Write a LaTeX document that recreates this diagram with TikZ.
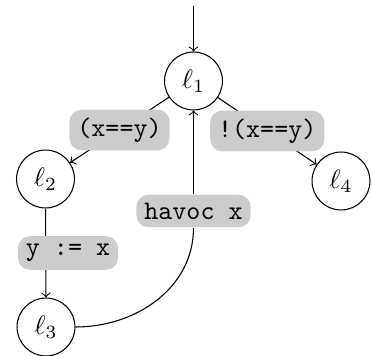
\documentclass[tikz,border=0pt]{standalone}
\begin{document}
\begin{tikzpicture}[x=0.3745pt,y=-0.3745pt,
  loc/.style={draw,circle,minimum size=21.7pt,inner sep=0pt},
  lbl/.style={fill=black!20,rounded corners=4.5pt,inner sep=3pt,font=\ttfamily}]
\useasboundingbox (0,0) rectangle (372,356);
\node[loc] (l1) at (193.5,81) {$\ell_1$};
\node[loc] (l2) at (45.5,179) {$\ell_2$};
\node[loc] (l3) at (46,327) {$\ell_3$};
\node[loc] (l4) at (341,181) {$\ell_4$};
\coordinate (init) at (193.5,6);
\node[lbl] (hv) at (193.5,211) {havoc x};
\draw[->] (init) -- (l1);
\draw[->] (l1) -- node[lbl] (g1) {(x==y)} (l2);
\draw[->] (l1) -- node[lbl] (g2) {!(x==y)} (l4);
\draw[->] (l2) -- (l3);
\node[lbl] (asg) at (68,253) {y := x};
\draw (l3) to[out=0,in=-90] (hv);
\draw[->] (hv) -- (l1);
\end{tikzpicture}
\end{document}
